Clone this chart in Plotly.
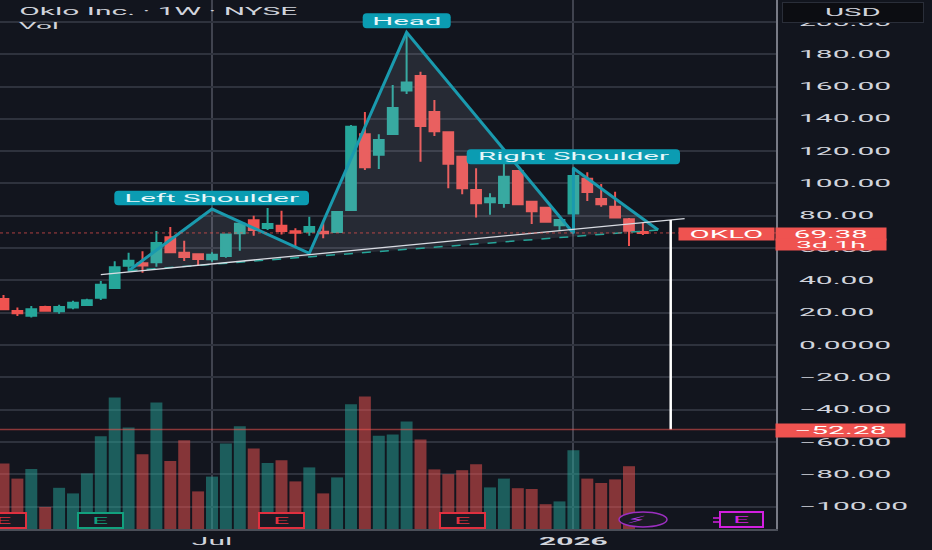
import pandas as pd
import plotly.graph_objects as go

# weekly candles
opens = [28.5, 21, 18.1, 23.5, 20.9, 23.3, 24.8, 29.3, 35.3, 49.1, 50.6, 51.2, 66.7, 57.2, 56.2, 53.1,
         55.1, 69.2, 77.2, 72.4, 73.9, 70.4, 70.2, 70.2, 70, 83.6, 130.5, 117.8, 130.7, 157.5, 166.6, 144.3,
         131.7, 116.6, 96, 88.4, 87.9, 107.7, 88.7, 85, 74.1, 81.5, 103, 90.4, 85.6, 77.8, 69.9]
highs = [31, 23.3, 24.1, 24.3, 25, 27.4, 28.7, 39.6, 51.8, 57.2, 58, 70.6, 73.1, 64.6, 56.8, 57.4,
         68.7, 75.4, 80.1, 84.8, 83.2, 72.3, 79.4, 76, 82.4, 136.2, 144.3, 130.5, 161, 193.6, 169.2, 151.7,
         131.7, 117, 109.4, 93.9, 112, 108, 89, 85.5, 77.4, 110.4, 107, 99.7, 94.9, 78.6, 75.7]
lows = [21.7, 18, 17.1, 20.6, 19.4, 22.1, 24.1, 27.9, 34.9, 45.4, 44.8, 48.5, 57.4, 52, 49.5, 51.6,
        54, 58.4, 67.7, 71.2, 68.5, 60.9, 67.7, 66.1, 69.5, 83.2, 108.4, 109, 130.2, 155.4, 113.5, 129.4,
        97, 93.3, 79, 80.7, 85, 87, 74.9, 75.7, 71.2, 69.2, 89.2, 85.6, 78.5, 61.3, 68.1]
closes = [22.1, 19.6, 22.1, 21.2, 23.5, 26.2, 27.7, 37.3, 48.1, 52.2, 49.3, 63.2, 57.4, 54.5, 53.3, 55.9,
          68.5, 75.1, 71.2, 74.9, 70.6, 69.5, 73.1, 69.2, 82.4, 135.2, 110, 126.9, 146.7, 162.6, 135.6, 132.3,
          112.3, 97, 87.7, 90.8, 104.2, 87.1, 82.8, 76.3, 77.4, 104.6, 94.7, 87.1, 79, 70.8, 69.38]
volumes = [16.4, 12.6, 15, 5.5, 10.3, 8.9, 13.9, 23.2, 32.9, 25.4, 18.7, 31.6, 17, 22.2, 9.4, 13.1,
           21.4, 25.7, 20.1, 16.5, 17.2, 11.9, 15.4, 8.9, 12.9, 31.2, 33.1, 23.3, 23.6, 26.9, 22.4, 14.9,
           13.7, 14.7, 16.2, 10.4, 12.6, 10.2, 10, 6.2, 6.9, 19.7, 12.6, 11.5, 12.4, 15.7, 0]

price_ticks = [200, 180, 160, 140, 120, 100, 80, 60, 40, 20, 0, -20, -40, -60, -80, -100]
price_labels = ["200.00", "180.00", "160.00", "140.00", "120.00", "100.00", "80.00", "60.00", "40.00",
                "20.00", "0.0000", "\u221220.00", "\u221240.00", "\u221260.00", "\u221280.00", "\u2212100.00"]

# head and shoulders drawing (week number, price)
pattern_weeks = [9, 15, 22, 29, 41, 41, 47.1]
pattern_prices = [46, 84.2, 56.8, 193.6, 69.2, 109.4, 71.2]
neck_weeks = [7, 49]
neck_prices = [43.6, 78.2]
target_weeks = [48, 48]
target_prices = [77.4, -52.28]

last_price = 69.38
target_price = -52.28
earnings_red = [0, 20, 33]
earnings_green = [7]

BG = "#12151e"
GREEN = "#26a69a"
RED = "#ef5350"
TEAL = "#1a9aae"
LABEL = "#0b9cb2"
FONT = "Roboto"

# pixel size of the plot area
PW = 776
PH = 529


def week(i):
    return pd.Timestamp("2025-03-17") + pd.Timedelta(days=7 * i)


def px(x):
    return x / PW


def py(y):
    return 1 - y / PH


def round_box(x0, y0, x1, y1, r=4):
    # rounded label background, in paper coordinates
    a, b, c, d = px(x0), py(y0), px(x1), py(y1)
    rx, ry = r / PW, r / PH
    return (f"M{a + rx},{b} L{c - rx},{b} Q{c},{b} {c},{b - ry} L{c},{d + ry} Q{c},{d} {c - rx},{d} "
            f"L{a + rx},{d} Q{a},{d} {a},{d + ry} L{a},{b - ry} Q{a},{b} {a + rx},{b} Z")


dates = [week(i) for i in range(len(opens))]
bar_colors = ["rgba(38,166,154,0.5)" if c >= o else "rgba(239,83,80,0.52)" for o, c in zip(opens, closes)]

fig = go.Figure()

fig.add_trace(go.Candlestick(x=dates, open=opens, high=highs, low=lows, close=closes,
                             increasing=dict(line=dict(color=GREEN, width=2), fillcolor=GREEN),
                             decreasing=dict(line=dict(color=RED, width=2), fillcolor=RED),
                             whiskerwidth=0, hoverinfo="skip"))

fig.add_trace(go.Bar(x=dates, y=volumes, marker=dict(color=bar_colors, line_width=0), yaxis="y2", hoverinfo="skip"))

# pattern fill and outline
fig.add_trace(go.Scatter(x=[week(i) for i in pattern_weeks], y=pattern_prices, mode="lines", fill="toself",
                         fillcolor="rgba(190,195,215,0.12)", line=dict(color=TEAL, width=3), hoverinfo="skip"))
fig.add_trace(go.Scatter(x=[week(pattern_weeks[0]), week(pattern_weeks[-1])], y=[pattern_prices[0], pattern_prices[-1]],
                         mode="lines", line=dict(color=GREEN, width=1.5, dash="dash"), hoverinfo="skip"))
# neckline and measured move
fig.add_trace(go.Scatter(x=[week(i) for i in neck_weeks], y=neck_prices, mode="lines",
                         line=dict(color="#d8dbe2", width=1.3), hoverinfo="skip"))
fig.add_trace(go.Scatter(x=[week(i) for i in target_weeks], y=target_prices, mode="lines",
                         line=dict(color="#ffffff", width=2.5), hoverinfo="skip"))

shapes = [
    dict(type="line", xref="paper", x0=0, x1=1, yref="y", y0=last_price, y1=last_price, layer="above",
         line=dict(color="rgba(239,83,80,0.7)", width=1, dash="dot")),
    dict(type="line", xref="paper", x0=0, x1=1, yref="y", y0=target_price, y1=target_price, layer="above",
         line=dict(color="rgba(239,83,80,0.55)", width=1.5)),
    dict(type="path", xref="paper", yref="paper", layer="above", fillcolor=LABEL, line_width=0,
         path=round_box(114.3, 190.7, 309, 205.3)),
    dict(type="path", xref="paper", yref="paper", layer="above", fillcolor=LABEL, line_width=0,
         path=round_box(362.7, 13.3, 450.7, 28.3)),
    dict(type="path", xref="paper", yref="paper", layer="above", fillcolor=LABEL, line_width=0,
         path=round_box(466.7, 149.3, 680, 164.3)),
    dict(type="circle", xref="paper", yref="paper", layer="above", fillcolor="#1a1a24",
         x0=px(619), x1=px(667), y0=py(527), y1=py(512), line=dict(color="#9c2fc0", width=1.5)),
    # little stub on the left of the purple E
    dict(type="line", xref="paper", yref="paper", layer="above", x0=px(713), x1=px(720), y0=py(518), y1=py(518),
         line=dict(color="#d31fe0", width=1.5)),
    dict(type="line", xref="paper", yref="paper", layer="above", x0=px(713), x1=px(720), y0=py(522), y1=py(522),
         line=dict(color="#d31fe0", width=1.5)),
]


def note(text, x, y, size=10, color="#e6f7fa", **kw):
    return dict(text=text, x=px(x), y=py(y), xref="paper", yref="paper", showarrow=False, yanchor="middle",
                xanchor="center", font=dict(family=FONT, size=size, color=color), **kw)


annotations = [
    note("Oklo Inc. · 1W · NYSE", 158.5, 12, size=10.2, color="#d1d4dc"),
    note("Vol", 39, 25, size=9.5, color="#d1d4dc"),
    note("Left Shoulder", 212, 198),
    note("Head", 406.7, 21),
    note("Right Shoulder", 573.5, 157),
    note("USD", 853, 12.5, color="#d1d4dc", width=140, height=19, bgcolor="#0c0d12",
         bordercolor="#2a2e39", borderwidth=1, borderpad=0),
    note("OKLO", 726, 234, color="#ffffff", width=95, height=12, bgcolor=RED, borderpad=0),
    note("69.38", 831, 233.5, color="#ffffff", width=110, height=12, bgcolor=RED, borderpad=0),
    note("3d 1h", 831, 244.5, size=9.5, color="#ffffff", width=110, height=11, bgcolor=RED, borderpad=0),
    note("\u221252.28", 840, 430.5, size=10.2, color="#ffffff", width=129, height=13, bgcolor=RED, borderpad=0),
    dict(text="\u26a1\ufe0e", x=px(642), y=py(519.5), xref="paper", yref="paper", showarrow=False, yanchor="middle",
         font=dict(family="DejaVu Sans", size=10, color="#b13be0")),
    note("E", 741.5, 519.5, size=9.5, color="#d31fe0", width=41, height=13, bgcolor="#1a1a24",
         bordercolor="#d31fe0", borderwidth=2, borderpad=0),
]
for i in earnings_red:
    annotations.append(dict(text="E", x=week(i), y=py(520), xref="x", yref="paper", yanchor="middle", showarrow=False,
                            font=dict(family=FONT, size=9.5, color="#e0303f"), width=43, height=13,
                            bgcolor="#1a1a24", bordercolor="#e0303f", borderwidth=2, borderpad=0))
for i in earnings_green:
    annotations.append(dict(text="E", x=week(i), y=py(520), xref="x", yref="paper", yanchor="middle", showarrow=False,
                            font=dict(family=FONT, size=9.5, color="#12a07e"), width=43, height=13,
                            bgcolor="#1a1a24", bordercolor="#12a07e", borderwidth=2, borderpad=0))

fig.update_layout(
    width=932, height=550,
    margin=dict(l=0, r=156, t=0, b=21, pad=0),
    paper_bgcolor=BG, plot_bgcolor=BG,
    showlegend=False, hovermode=False,
    bargap=0.14, boxgap=0,
    shapes=shapes, annotations=annotations,
    font=dict(family=FONT, color="#d1d4dc", size=10.2),
    xaxis=dict(type="date", rangeslider_visible=False,
               range=[week(15) - pd.Timedelta(days=212 / 13.9 * 7), week(15) + pd.Timedelta(days=564 / 13.9 * 7)],
               tickmode="array", tickvals=[week(15), week(41)], ticktext=["Jul", "<b>2026</b>"],
               showgrid=True, gridcolor="#40434f", gridwidth=2, zeroline=False,
               showline=True, linecolor="#4a4e58", linewidth=1.5, ticks="", ticklabelstandoff=2,
               tickfont=dict(size=10.2)),
    yaxis=dict(side="right", range=[-113.9, 213.6], tickmode="array", tickvals=price_ticks, ticktext=price_labels,
               showgrid=True, gridcolor="#2e323d", gridwidth=1.5, zeroline=False,
               showline=True, linecolor="#787b86", linewidth=2, ticks="", ticklabelstandoff=19,
               tickfont=dict(size=10.2)),
    yaxis2=dict(overlaying="y", side="right", range=[0, 132.25], visible=False),
)

# the reference text is stretched sideways, SVG can do the same with textLength
stretch = """
document.body.style.margin = '0';
document.querySelectorAll('.xtick text, .ytick text, .annotation-text').forEach(function (t) {
    var w = t.getComputedTextLength();
    t.setAttribute('lengthAdjust', 'spacingAndGlyphs');
    t.setAttribute('textLength', w * 2.94);
});
"""

fig.write_html("out.html", post_script=stretch, config={"displayModeBar": False})
